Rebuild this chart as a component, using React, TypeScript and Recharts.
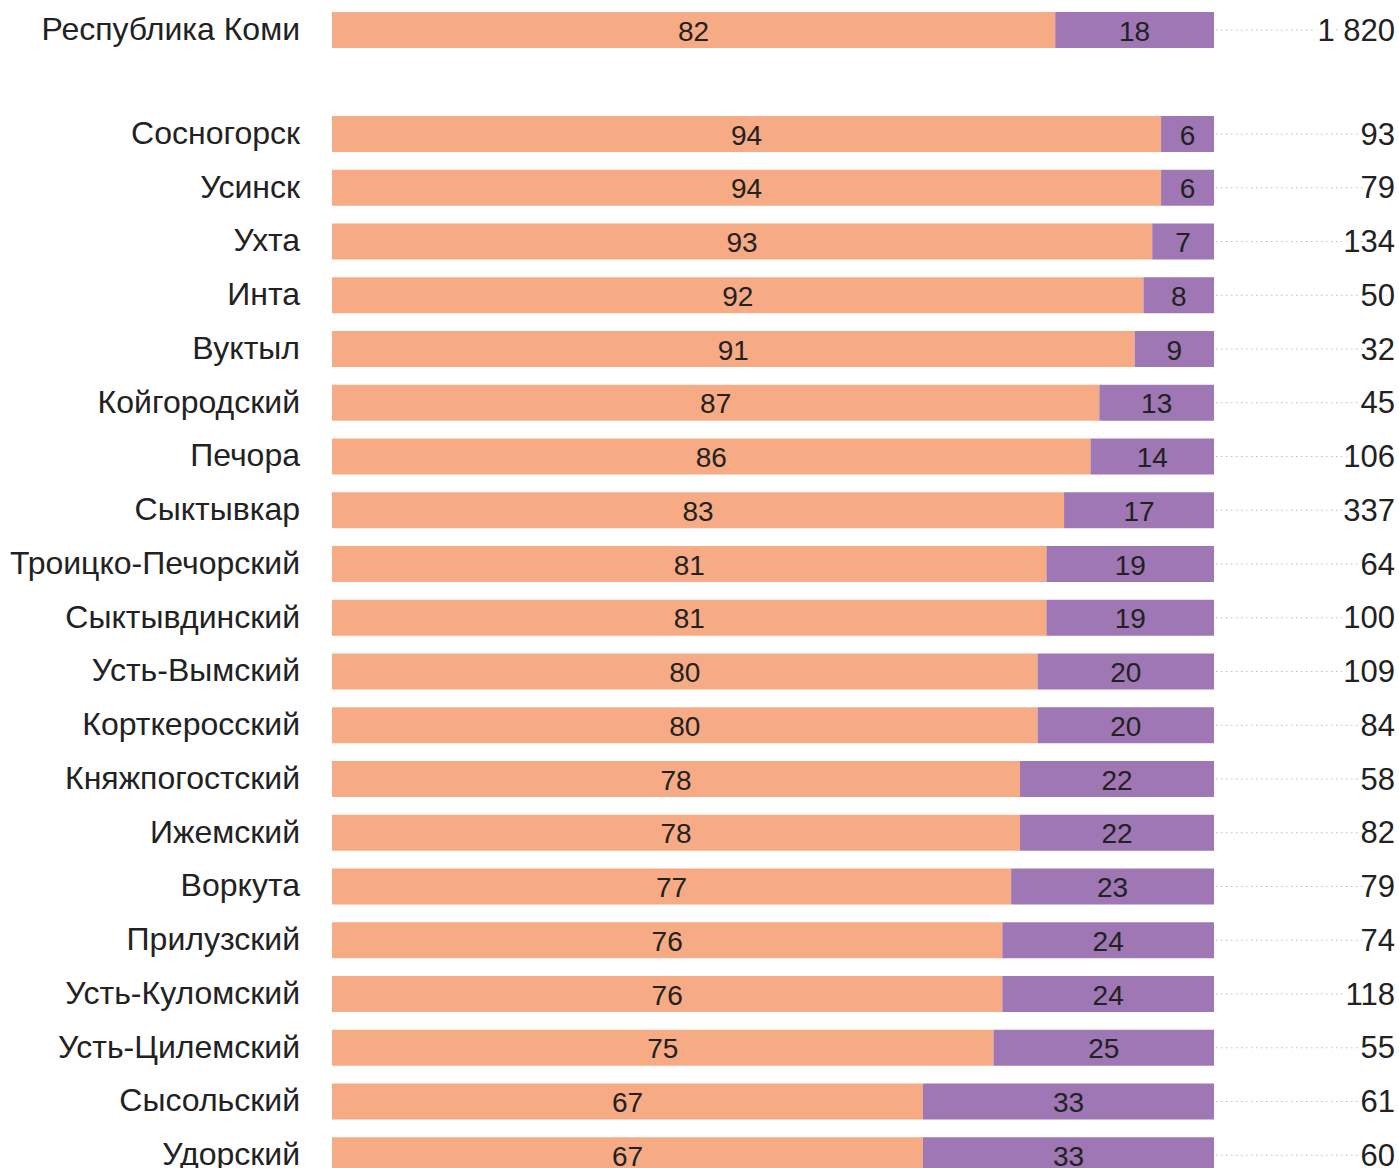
import React from "react";
import { BarChart, Bar, XAxis, YAxis, LabelList } from "recharts";

if (typeof document !== "undefined") {
  document.body.style.margin = "0";
}

const regions = [
  "Республика Коми",
  "Сосногорск",
  "Усинск",
  "Ухта",
  "Инта",
  "Вуктыл",
  "Койгородский",
  "Печора",
  "Сыктывкар",
  "Троицко-Печорский",
  "Сыктывдинский",
  "Усть-Вымский",
  "Корткеросский",
  "Княжпогостский",
  "Ижемский",
  "Воркута",
  "Прилузский",
  "Усть-Куломский",
  "Усть-Цилемский",
  "Сысольский",
  "Удорский",
];
const shareOrange = [82, 94, 94, 93, 92, 91, 87, 86, 83, 81, 81, 80, 80, 78, 78, 77, 76, 76, 75, 67, 67];
const sharePurple = [18, 6, 6, 7, 8, 9, 13, 14, 17, 19, 19, 20, 20, 22, 22, 23, 24, 24, 25, 33, 33];
const totals = [1820, 93, 79, 134, 50, 32, 45, 106, 337, 64, 100, 109, 84, 58, 82, 79, 74, 118, 55, 61, 60];

const ORANGE = "#F7AB84";
const PURPLE = "#9E77B4";
const FONT = "'Liberation Sans', Arial, Helvetica, sans-serif";
const TEXT = "#222222";

const rows = regions.map((name, i) => ({
  name,
  a: shareOrange[i],
  b: sharePurple[i],
  total: totals[i],
}));

const fmt = (v: number) => String(v).replace(/\B(?=(\d{3})+(?!\d))/g, "\u00a0");

const CatTick = (props: any) => {
  const { y, payload } = props;
  return (
    <text
      x={300}
      y={y - 1}
      textAnchor="end"
      dominantBaseline="central"
      fontFamily={FONT}
      fontSize={32}
      fill={TEXT}
    >
      {payload.value}
    </text>
  );
};

const InnerLabel = (props: any) => {
  const { x, y, width, height, value } = props;
  return (
    <text
      x={x + width / 2}
      y={y + height / 2 + 1}
      textAnchor="middle"
      dominantBaseline="central"
      fontFamily={FONT}
      fontSize={28}
      fill={TEXT}
    >
      {value}
    </text>
  );
};

const TotalLabel = (props: any) => {
  const { x, y, width, height, value } = props;
  const cy = y + height / 2;
  const endX = 1395;
  return (
    <g>
      <line
        x1={x + width + 2}
        x2={endX - 4}
        y1={cy}
        y2={cy}
        stroke="#bdbdbd"
        strokeWidth={1.2}
        strokeDasharray="1.5 3.5"
      />
      <text
        x={endX}
        y={cy}
        textAnchor="end"
        dominantBaseline="central"
        fontFamily={FONT}
        fontSize={31}
        fill={TEXT}
        stroke="#ffffff"
        strokeWidth={8}
        paintOrder="stroke"
      >
        {fmt(value)}
      </text>
    </g>
  );
};

const Panel = ({ data, height, top }: { data: any[]; height: number; top: number }) => (
  <div style={{ position: "absolute", left: 0, top }}>
    <BarChart
      width={1399}
      height={height}
      data={data}
      layout="vertical"
      margin={{ top: 0, right: 185, bottom: 0, left: 0 }}
      barCategoryGap={0}
      style={{ overflow: "visible" }}
    >
      <XAxis type="number" domain={[0, 100]} hide />
      <YAxis
        type="category"
        dataKey="name"
        width={332}
        axisLine={false}
        tickLine={false}
        interval={0}
        tick={<CatTick />}
      />
      <Bar dataKey="a" stackId="s" fill={ORANGE} barSize={36} isAnimationActive={false}>
        <LabelList dataKey="a" content={<InnerLabel />} />
      </Bar>
      <Bar dataKey="b" stackId="s" fill={PURPLE} barSize={36} isAnimationActive={false}>
        <LabelList dataKey="b" content={<InnerLabel />} />
        <LabelList dataKey="total" content={<TotalLabel />} />
      </Bar>
    </BarChart>
  </div>
);

export default function App() {
  return (
    <div
      style={{
        width: 1399,
        height: 1168,
        overflow: "hidden",
        position: "relative",
        background: "#fff",
      }}
    >
      <Panel data={rows.slice(0, 1)} height={60} top={0} />
      <Panel data={rows.slice(1)} height={1075} top={107} />
    </div>
  );
}
